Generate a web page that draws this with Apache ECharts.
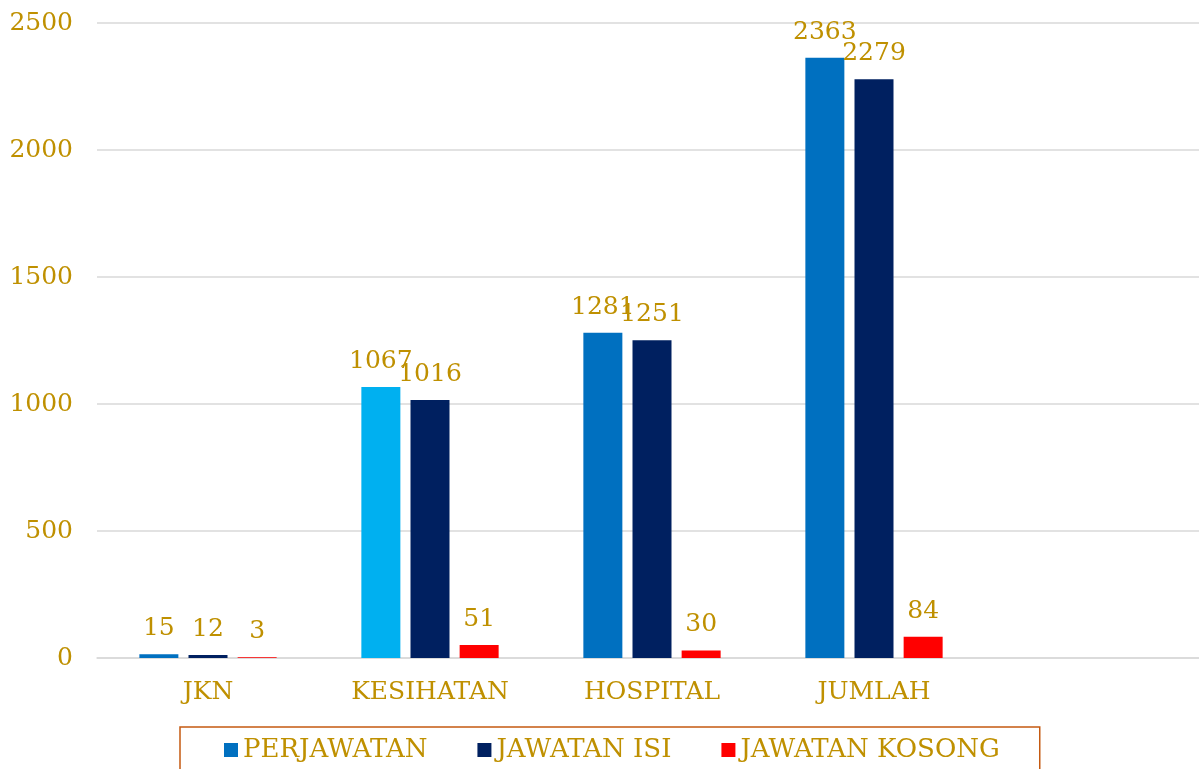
<!DOCTYPE html>
<html>
<head>
<meta charset="utf-8">
<script src="https://cdn.jsdelivr.net/npm/echarts@6/dist/echarts.min.js"></script>
<style>
  html, body { margin: 0; padding: 0; background: #fff; }
  #chart { width: 1199px; height: 769px; }
</style>
</head>
<body>
<div id="chart"></div>
<script>
// data
const categories = ['JKN', 'KESIHATAN', 'HOSPITAL', 'JUMLAH', ''];
const perjawatan = [15, 1067, 1281, 2363];
const jawatanIsi = [12, 1016, 1251, 2279];
const jawatanKosong = [3, 51, 30, 84];
const yTicks = [0, 500, 1000, 1500, 2000, 2500];

const gold = '#BF9000';
const font = '"DejaVu Serif", serif';
const fs = 25;

const chart = echarts.init(document.getElementById('chart'));

const label = {
    show: true,
    position: 'top',
    color: gold,
    fontFamily: font,
    fontSize: fs,
    distance: 13
};

const option = {
    animation: false,
    grid: { left: 97, width: 1110, top: 23, bottom: 111, outerBoundsMode: 'none', containLabel: false },
    legend: {
        top: 727,
        left: 180,
        itemWidth: 14,
        itemHeight: 14,
        itemGap: 50,
        icon: 'rect',
        padding: [10, 40, 30, 44],
        borderColor: '#C55A11',
        borderWidth: 1.5,
        textStyle: { color: gold, fontFamily: font, fontSize: 26 },
        data: ['PERJAWATAN', 'JAWATAN ISI', 'JAWATAN KOSONG']
    },
    xAxis: {
        type: 'category',
        data: categories,
        axisLine: { lineStyle: { color: '#D9D9D9', width: 1.5 } },
        axisTick: { show: false },
        axisLabel: { color: gold, fontFamily: font, fontSize: fs, margin: 22 }
    },
    yAxis: {
        type: 'value',
        min: yTicks[0],
        max: yTicks[yTicks.length - 1],
        interval: 500,
        splitLine: { lineStyle: { color: '#D9D9D9', width: 1.5 } },
        axisLabel: { color: gold, fontFamily: font, fontSize: fs, margin: 24, formatter: v => String(v) }
    },
    series: [
        {
            name: 'PERJAWATAN',
            type: 'bar',
            barWidth: 39,
            barGap: '26%',
            itemStyle: { color: '#0070C0' },
            label: label,
            data: perjawatan.map((v, i) => i === 1 ? { value: v, itemStyle: { color: '#00B0F0' } } : v)
        },
        {
            name: 'JAWATAN ISI',
            type: 'bar',
            barWidth: 39,
            barGap: '26%',
            itemStyle: { color: '#002060' },
            label: label,
            data: jawatanIsi
        },
        {
            name: 'JAWATAN KOSONG',
            type: 'bar',
            barWidth: 39,
            barGap: '26%',
            itemStyle: { color: '#FF0000' },
            label: label,
            data: jawatanKosong
        }
    ]
};

chart.setOption(option);
</script>
</body>
</html>
